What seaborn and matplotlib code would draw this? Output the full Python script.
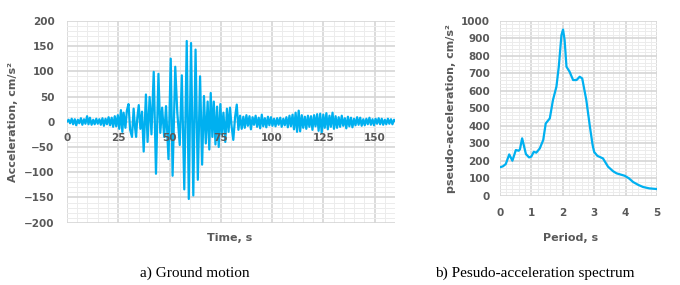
import matplotlib
matplotlib.use('Agg')
import matplotlib.pyplot as plt
from matplotlib.ticker import MultipleLocator
import seaborn as sns
import pandas as pd

# ground motion record (time in s, acceleration in cm/s2)
time_s = [0.0, 0.8, 1.5, 2.3, 3.0, 3.8, 4.5, 5.3, 6.0, 6.8,
          7.5, 8.3, 9.0, 9.8, 10.5, 11.2, 12.0, 12.8, 13.5, 14.3,
          15.0, 15.8, 16.5, 17.3, 18.0, 18.8, 19.5, 20.3, 21.0, 21.8,
          22.5, 23.3, 24.0, 24.8,
          25.5, 26.3, 27.0, 27.6, 28.5, 29.2, 30.0, 30.8, 31.7, 32.5,
          33.1, 33.7, 34.3, 35.0, 35.8, 36.6, 37.4, 38.5, 39.3, 40.3,
          41.2, 42.3, 43.4, 44.6, 45.5, 46.4, 47.4, 48.3, 49.5, 50.6,
          51.5, 52.8, 53.8, 55.0, 56.0, 57.2, 58.4, 59.4, 60.5, 61.6,
          62.7, 63.8, 64.9, 65.9, 66.8, 67.7, 68.6, 69.4, 70.1, 70.9,
          71.6, 72.4, 73.2, 74.0, 74.8, 75.5, 76.3, 77.2, 78.0, 78.8,
          79.5, 80.3, 81.1, 82.0, 82.8, 83.6, 84.4,
          85.2, 86.0, 86.7, 87.5, 88.2, 89.0, 89.7, 90.5, 91.2, 92.0,
          92.7, 93.5, 94.2, 95.0, 95.7, 96.5, 97.2, 98.0, 98.7, 99.5,
          100.2, 101.0, 101.7, 102.5, 103.2, 104.0, 104.7, 105.5, 106.2, 107.0,
          107.7, 108.5, 109.2, 110.0, 110.7, 111.5, 112.2, 113.0, 113.7, 114.5,
          115.2, 116.0, 116.7, 117.5, 118.2, 119.0, 119.7, 120.5, 121.2, 122.0,
          122.7, 123.5, 124.2, 125.0, 125.7, 126.5, 127.2, 128.0, 128.7, 129.5,
          130.2, 131.0, 131.7, 132.5, 133.2, 134.0, 134.7, 135.5, 136.2, 137.0,
          137.7, 138.5, 139.2, 140.0, 140.7, 141.5, 142.2, 143.0, 143.7, 144.5,
          145.2, 146.0, 146.7, 147.5, 148.2, 149.0, 149.7, 150.5, 151.2, 152.0,
          152.7, 153.5, 154.2, 155.0, 155.7, 156.5, 157.2, 158.0, 158.7, 159.5,
          160.0]
accel = [0, 4, -3, 6, -5, 5, -7, 4, -3, 7,
         -6, 5, -4, 11, -5, 8, -6, 4, -5, 6,
         -4, 5, -6, 7, -8, 6, -5, 9, -7, 8,
         -10, 11, -9, 13,
         -14, 23, -20, 18, -12, 22, 35, -16, -30, 26,
         -8, -30, 8, 33, -14, 20, -59, 54, -40, 49,
         -25, 99, -103, 95, -22, 28, -30, 31, -74, 125,
         -107, 109, 18, -46, 92, -134, 160, -153, 156, -146,
         143, -115, 90, -85, 51, -43, 40, -55, 57, -30,
         40, -45, 30, -50, 35, -25, 18, -40, 26, -20,
         28, -10, -36, 10, 34, -16, 12,
         -14, 10, -12, 13, -8, 11, -15, 9, -6, 12,
         -10, 8, -13, 14, -9, 7, -11, 10, -7, 9,
         -8, 6, -9, 7, -6, 8, -10, 6, -7, 9,
         -11, 12, -9, 14, -15, 18, -20, 22, -19, 13,
         -12, 10, -14, 12, -10, 11, -16, 13, -9, 15,
         -18, 16, -22, 14, -12, 17, -15, 12, -10, 18,
         -14, 11, -12, 9, -10, 12, -8, 7, -13, 10,
         -9, 8, -11, 6, -7, 9, -6, 8, -8, 5,
         -7, 6, -5, 8, -6, 5, -7, 6, -4, 7,
         -5, 6, -6, 4, -5, 6, -4, 5, -5, 4,
         2]

# pseudo-acceleration spectrum
period = [0, 0.1, 0.19, 0.3, 0.4, 0.51, 0.6, 0.64, 0.71, 0.83,
          0.93, 1.0, 1.08, 1.16, 1.27, 1.38, 1.46, 1.59, 1.69, 1.8,
          1.875, 1.96, 2.01, 2.06, 2.12, 2.22, 2.33, 2.44, 2.54, 2.62,
          2.75, 2.86, 2.95, 3.0, 3.1, 3.28, 3.44, 3.6, 3.71, 3.97,
          4.1, 4.24, 4.4, 4.55, 4.75, 5.0]
psa = [162, 168, 181, 236, 200, 261, 257, 265, 328, 238,
       219, 223, 251, 246, 270, 318, 413, 442, 547, 623,
       737, 918, 950, 890, 737, 708, 661, 661, 680, 670,
       547, 400, 290, 250, 228, 213, 166, 140, 128, 114,
       100, 78, 62, 50, 42, 38]

time_ticks = [0, 25, 50, 75, 100, 125, 150]

gm = pd.DataFrame({'t': time_s, 'a': accel})
sp = pd.DataFrame({'T': period, 'Sa': psa})

sns.set_style('white')
plt.rcParams['font.family'] = ['DejaVu Sans']

blue = '#00B0F0'
txt = '#595959'
major_c = '#d6d6d6'
minor_c = '#ececec'


def excel_grid(ax):
    ax.grid(True, which='major', color=major_c, lw=1.2)
    ax.grid(True, which='minor', color=minor_c, lw=0.7)
    ax.set_axisbelow(True)
    for s in ax.spines.values():
        s.set_visible(False)
    ax.tick_params(which='both', length=0, labelsize=7.5, labelcolor=txt)
    for lab in ax.get_xticklabels() + ax.get_yticklabels():
        lab.set_fontweight('bold')


fig = plt.figure(figsize=(6.8, 2.85), dpi=100)

ax1 = fig.add_axes([0.0985, 0.2186, 0.4825, 0.7084])
sns.lineplot(data=gm, x='t', y='a', ax=ax1, color=blue, lw=1.6)
ax1.set_xlim(0, 160)
ax1.set_ylim(-200, 200)
ax1.set_xticks(time_ticks)
ax1.xaxis.set_minor_locator(MultipleLocator(5))
ax1.yaxis.set_major_locator(MultipleLocator(50))
ax1.yaxis.set_minor_locator(MultipleLocator(10))
excel_grid(ax1)
ax1.tick_params(axis='x', labelbottom=False)
ax1.tick_params(axis='y', pad=9)
# time labels sit just under the zero line, drawn above the trace as in Excel
for t in time_ticks:
    ax1.text(t, -22, str(t), ha='center', va='top', fontsize=7.5,
             fontweight='bold', color=txt, zorder=5)
ax1.set_xlabel('')
ax1.set_ylabel('Acceleration, cm/s²', fontsize=8, fontweight='bold', color=txt, labelpad=4)
fig.text(230 / 680, 1 - 238 / 285, 'Time, s', ha='center', va='center',
         fontsize=8, fontweight='bold', color=txt)

ax2 = fig.add_axes([0.735, 0.3133, 0.2313, 0.614])
sns.lineplot(data=sp, x='T', y='Sa', ax=ax2, color=blue, lw=1.6)
ax2.set_xlim(0, 5)
ax2.set_ylim(0, 1000)
ax2.xaxis.set_major_locator(MultipleLocator(1))
ax2.xaxis.set_minor_locator(MultipleLocator(0.2))
ax2.yaxis.set_major_locator(MultipleLocator(100))
ax2.yaxis.set_minor_locator(MultipleLocator(20))
excel_grid(ax2)
ax2.tick_params(axis='x', pad=9)
ax2.tick_params(axis='y', pad=7)
ax2.set_xlabel('')
ax2.set_ylabel('pseudo-acceleration, cm/s²', fontsize=8, fontweight='bold', color=txt, labelpad=4)
fig.text(571 / 680, 1 - 238 / 285, 'Period, s', ha='center', va='center',
         fontsize=8, fontweight='bold', color=txt)

fig.text(195 / 680, 1 - 273 / 285, 'a) Ground motion', ha='center', va='center',
         fontsize=11, family='Liberation Serif', color='black')
fig.text(535 / 680, 1 - 273 / 285, 'b) Pesudo-acceleration spectrum', ha='center', va='center',
         fontsize=11, family='Liberation Serif', color='black')

fig.savefig('out.png', dpi=100, facecolor='white')
